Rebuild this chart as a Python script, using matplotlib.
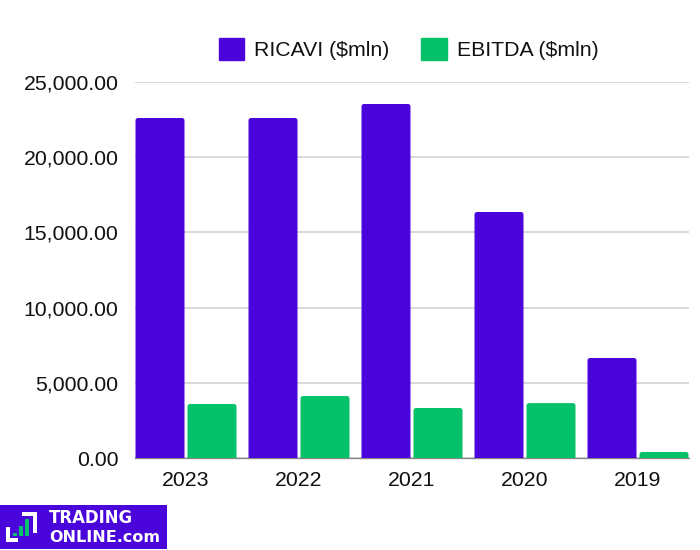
import matplotlib
matplotlib.use('Agg')
import matplotlib.pyplot as plt
from matplotlib.patches import FancyBboxPatch, Patch, Rectangle

years = ['2023', '2022', '2021', '2020', '2019']
ricavi = [22606, 22606, 23537, 16356, 6650]
ebitda = [3590, 4120, 3325, 3650, 400]
series_names = ['RICAVI ($mln)', 'EBITDA ($mln)']
yticks = [0, 5000, 10000, 15000, 20000, 25000]

PURPLE = '#4A05DB'
GREEN = '#05C16A'

plt.rcParams['font.family'] = ['Liberation Sans', 'DejaVu Sans']

fig = plt.figure(figsize=(7, 5.5), dpi=100)
ax = fig.add_axes([135 / 700, 1 - 458 / 550, 554 / 700, 376 / 550])

bar_w = 49 / 113
half = 51 / 113
ax.set_xlim(-half, len(years) - 1 + half)
ax.set_ylim(0, 25000)

# data units for one pixel, so the corners stay round
px_x = (len(years) - 1 + 2 * half) / 554
px_y = 25000 / 376


def rounded_bars(xs, values, color):
    bars = ax.bar(xs, values, width=bar_w, color=color, zorder=3)
    for b in bars:
        b.set_visible(False)
        r = 2.5 * px_x
        # starts below zero so only the top corners show
        ax.add_patch(FancyBboxPatch(
            (b.get_x(), -1000), b.get_width(), b.get_height() + 1000,
            boxstyle='round,pad=0,rounding_size=%f' % r,
            mutation_aspect=px_y / px_x,
            fc=color, ec='none', zorder=3))


off = 26 / 113
rounded_bars([i - off for i in range(len(years))], ricavi, PURPLE)
rounded_bars([i + off for i in range(len(years))], ebitda, GREEN)

ax.set_xticks(range(len(years)))
ax.set_xticklabels(years)
ax.set_yticks(yticks)
ax.set_yticklabels(['{:,.2f}'.format(v) for v in yticks])
ax.tick_params(axis='both', length=0, labelsize=15.3, labelcolor='#111111')
ax.tick_params(axis='x', pad=9)
ax.tick_params(axis='y', pad=12)
ax.grid(axis='y', color='#d2d2d2', lw=1.2, zorder=0)
ax.set_axisbelow(True)
for s in ['top', 'right', 'left']:
    ax.spines[s].set_visible(False)
ax.spines['bottom'].set_color('#888888')
ax.spines['bottom'].set_linewidth(1)

handles = [Patch(color=PURPLE), Patch(color=GREEN)]
fig.legend(handles, series_names, ncol=2, loc='center',
           bbox_to_anchor=(408.5 / 700, 1 - 49 / 550), frameon=False,
           fontsize=15.3, labelcolor='#111111', handlelength=1.19, handleheight=1.19,
           handletextpad=0.48, columnspacing=1.5, borderpad=0, borderaxespad=0)

# logo, in pixel coordinates
logo = fig.add_axes([0, 0, 1, 1], zorder=5)
logo.set_xlim(0, 700)
logo.set_ylim(550, 0)
logo.axis('off')
logo.add_patch(Rectangle((0, 505), 167, 44, fc=PURPLE, ec='none'))
for x, y, w, h, c in [(6, 527, 4, 15, 'white'), (6, 538, 12, 4, 'white'),
                      (22, 512, 15, 4, 'white'), (33, 512, 4, 21, 'white'),
                      (13, 533, 4, 3, GREEN), (19, 526, 4, 10, GREEN),
                      (25, 519, 4, 17, GREEN)]:
    logo.add_patch(Rectangle((x, y), w, h, fc=c, ec='none'))
logo.text(49, 518, 'TRADING', color='white', fontsize=11.9, fontweight='bold',
          family='DejaVu Sans', va='center', ha='left')
logo.text(49, 537, 'ONLINE.com', color='white', fontsize=11.5, fontweight='bold',
          family='DejaVu Sans', va='center', ha='left')

fig.savefig('out.png', dpi=100)
